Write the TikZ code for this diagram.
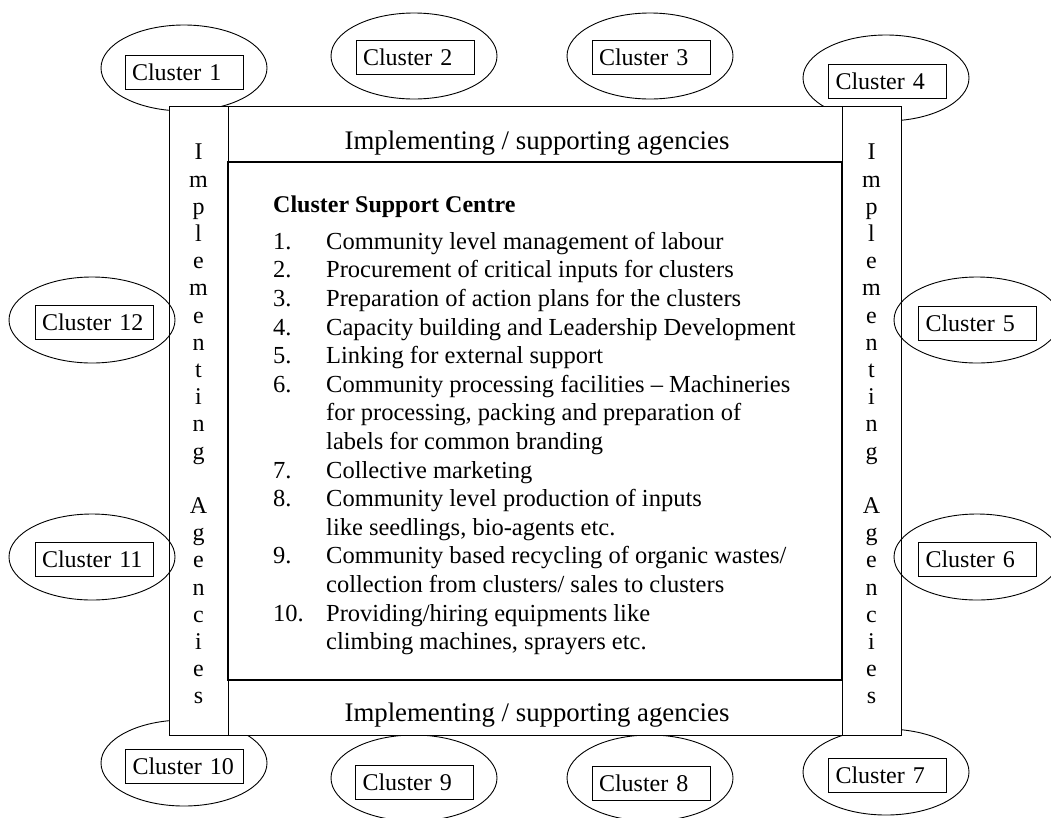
\documentclass[tikz,border=0pt]{standalone}
\usepackage{fontspec}
\setmainfont{Liberation Serif}
\usetikzlibrary{positioning,shapes.geometric}

\newcommand{\stripletters}{I\\m\\p\\l\\e\\m\\e\\n\\t\\i\\n\\g\\[27.2pt]A\\g\\e\\n\\c\\i\\e\\s}

\begin{document}
\begin{tikzpicture}[x=1pt, y=-1pt,
        clusterbubble/.style={ellipse, draw, line width=0.9pt, minimum width=166pt, minimum height=86pt, inner sep=0pt},
        clusterbox/.style={rectangle, draw, line width=0.9pt, fill=white, minimum height=34pt, text width=104pt, inner xsep=7pt, inner ysep=0pt, align=left, font=\fontsize{24}{28}\selectfont},
        frameline/.style={draw, line width=0.9pt, fill=white},
        bartext/.style={anchor=base, inner sep=0pt, font=\fontsize{26.8}{30}\selectfont},
        striptext/.style={anchor=north, inner sep=0pt, align=center, font=\fontsize{24}{27.2}\selectfont}]

        \useasboundingbox (0,0) rectangle (1051,817);

        % bubbles behind the frame
        \node[clusterbubble] (b1) at (184,68) {};
        \node[clusterbubble] (b2) at (414,56) {};
        \node[clusterbubble] (b3) at (650,56) {};
        \node[clusterbubble] (b4) at (886,78) {};
        \node[clusterbubble] (b7) at (886,772) {};
        \node[clusterbubble] (b8) at (650,778) {};
        \node[clusterbubble] (b9) at (414,778) {};
        \node[clusterbubble] (b10) at (184,763) {};

        % frame of agencies
        \draw[frameline] (169,106) rectangle (228,735);
        \draw[frameline] (842,106) rectangle (901,735);
        \draw[frameline] (228,106) rectangle (842,162);
        \draw[frameline] (228,680) rectangle (842,735);
        \draw[line width=1.8pt] (228,162) rectangle (842,680);

        \node[bartext] (toptext) at (537,149) {Implementing / supporting agencies};
        \node[bartext] (bottomtext) at (537,721) {Implementing / supporting agencies};
        \node[striptext] (leftstrip) at (198.5,144) {\stripletters};
        \node[striptext] (rightstrip) at (871.5,144) {\stripletters};

        % bubbles in front of the frame
        \node[clusterbubble] (b5) at (977,320) {};
        \node[clusterbubble] (b6) at (977,557) {};
        \node[clusterbubble] (b11) at (92,557) {};
        \node[clusterbubble] (b12) at (92,320) {};

        \node[clusterbox] (c1) at (184,72) {Cluster 1};
        \node[clusterbox] (c2) at (415,57.5) {Cluster 2};
        \node[clusterbox] (c3) at (651,57.5) {Cluster 3};
        \node[clusterbox] (c4) at (887.5,81) {Cluster 4};
        \node[clusterbox] (c5) at (977.5,323) {Cluster 5};
        \node[clusterbox] (c6) at (977.5,559.5) {Cluster 6};
        \node[clusterbox] (c7) at (887.5,775) {Cluster 7};
        \node[clusterbox] (c8) at (651,783) {Cluster 8};
        \node[clusterbox] (c9) at (414.5,782.5) {Cluster 9};
        \node[clusterbox] (c10) at (184.5,766) {Cluster 10};
        \node[clusterbox] (c11) at (94,559.5) {Cluster 11};
        \node[clusterbox] (c12) at (94,322.5) {Cluster 12};

        % support centre
        \node[anchor=north west, inner sep=0pt, font=\fontsize{24.5}{28.6}\selectfont] (centre) at (273,192) {%
            \begin{tabular}{@{}p{53pt}@{}l@{}}
            \multicolumn{2}{@{}l@{}}{\fontsize{24}{28.6}\selectfont\textbf{Cluster Support Centre}}\\[8.4pt]
            1. & Community level management of labour\\
            2. & Procurement of critical inputs for clusters\\
            3. & Preparation of action plans for the clusters\\
            4. & Capacity building and Leadership Development\\
            5. & Linking for external support\\
            6. & Community processing facilities -- Machineries\\
               & for processing, packing and preparation of\\
               & labels for common branding\\
            7. & Collective marketing\\
            8. & Community level production of inputs\\
               & like seedlings, bio-agents etc.\\
            9. & Community based recycling of organic wastes/\\
               & collection from clusters/ sales to clusters\\
            10. & Providing/hiring equipments like\\
               & climbing machines, sprayers etc.
            \end{tabular}};

\end{tikzpicture}
\end{document}
